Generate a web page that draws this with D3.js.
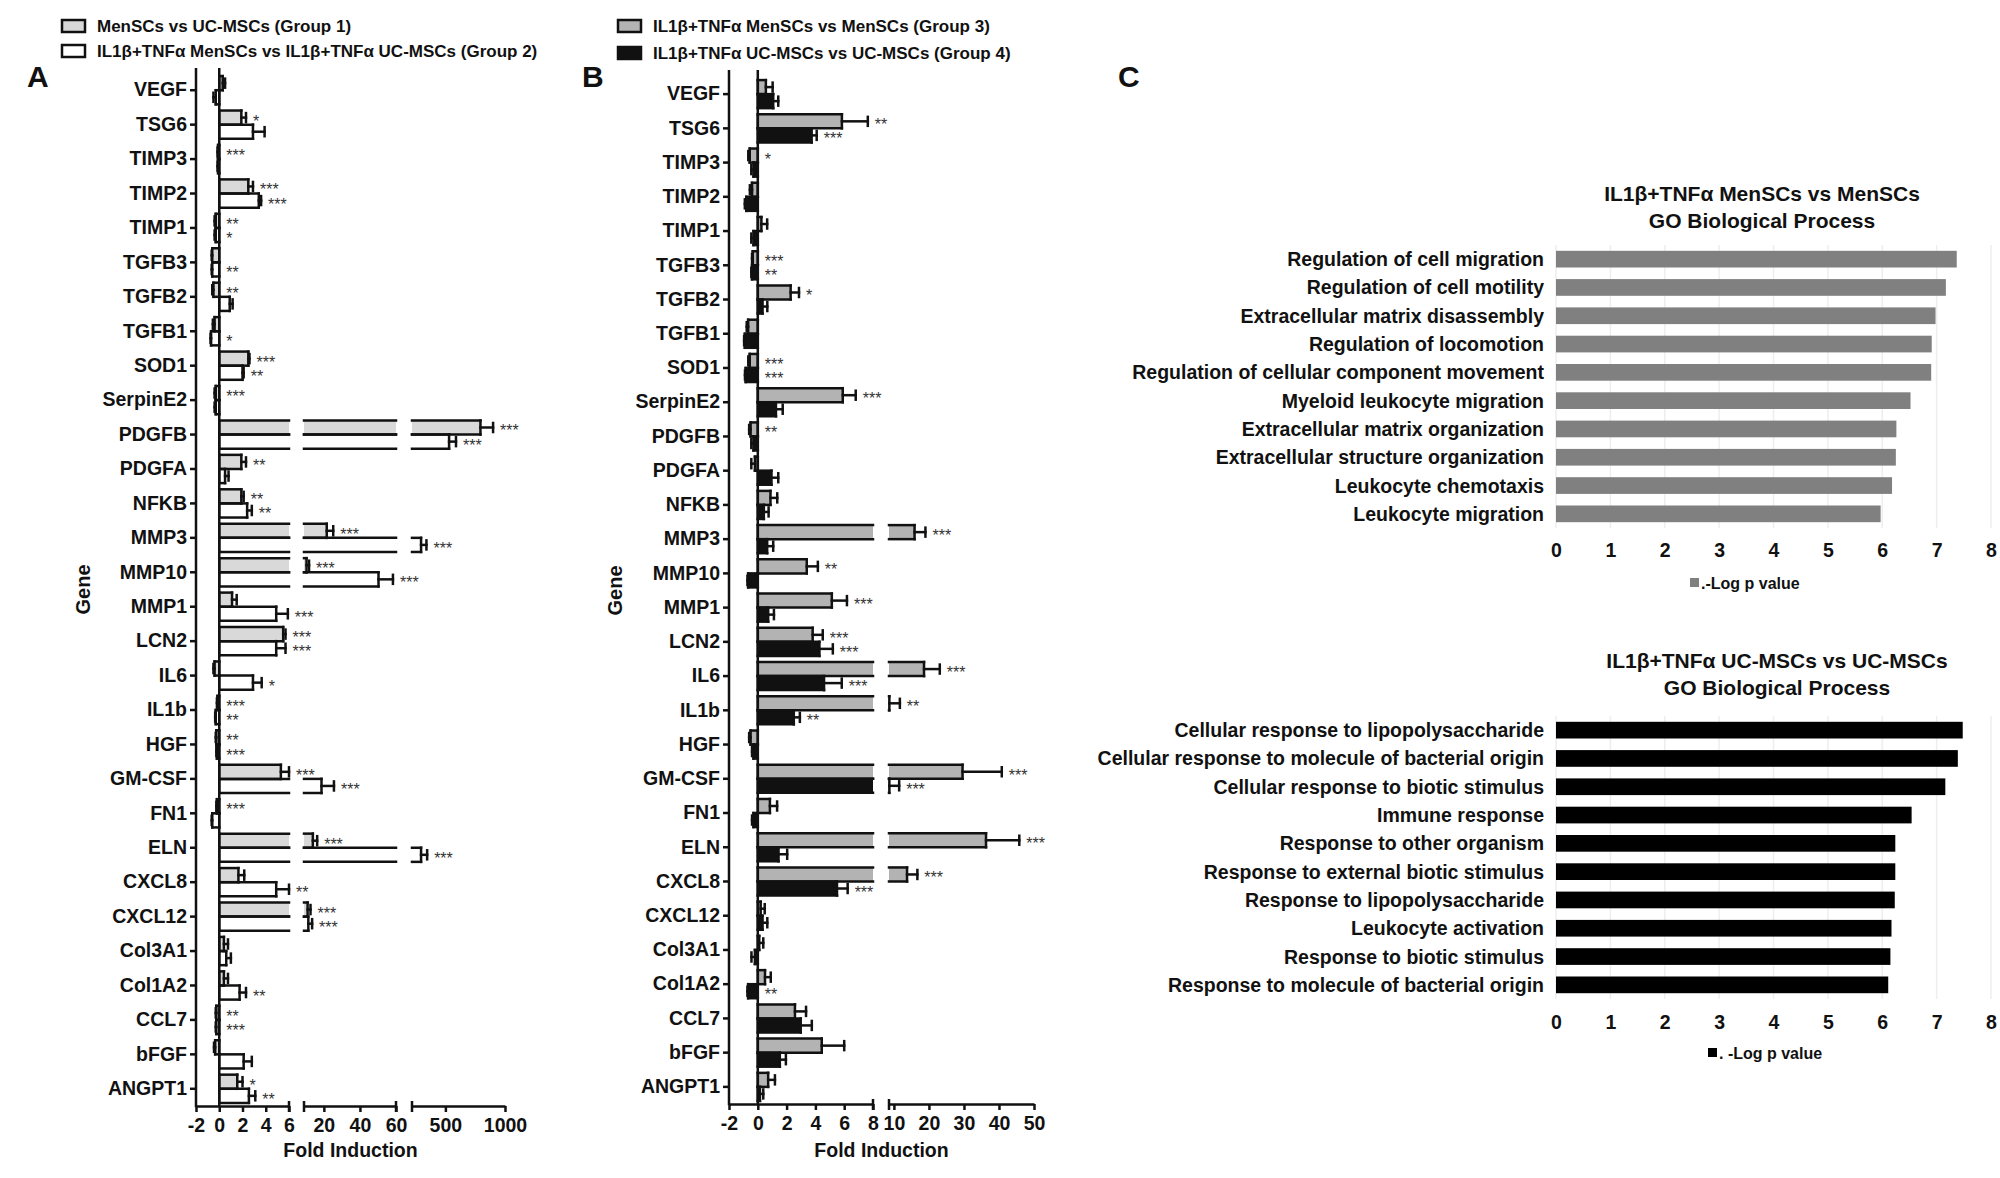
<!DOCTYPE html>
<html>
<head>
<meta charset="utf-8">
<script src="https://cdn.jsdelivr.net/npm/d3@7"></script>
<style>
  body { margin: 0; background: #fff; }
  svg { display: block; }
  text { font-family: "Liberation Sans", Arial, Helvetica, sans-serif; font-weight: bold; fill: #111; }
</style>
</head>
<body>
<div id="chart"></div>
<script>
// ---- data ----
const genes = ['VEGF', 'TSG6', 'TIMP3', 'TIMP2', 'TIMP1', 'TGFB3', 'TGFB2', 'TGFB1', 'SOD1', 'SerpinE2',
  'PDGFB', 'PDGFA', 'NFKB', 'MMP3', 'MMP10', 'MMP1', 'LCN2', 'IL6', 'IL1b', 'HGF',
  'GM-CSF', 'FN1', 'ELN', 'CXCL8', 'CXCL12', 'Col3A1', 'Col1A2', 'CCL7', 'bFGF', 'ANGPT1'];

// panel A
const group1 = [0.3, 1.9, -0.1, 2.5, -0.3, -0.6, -0.5, -0.4, 2.5, -0.3,
  794, 1.9, 1.9, 21.6, 10.4, 1.1, 5.5, -0.4, -0.15, -0.25,
  5.3, -0.2, 13.9, 1.65, 11, 0.4, 0.4, -0.25, -0.35, 1.55];
const group1Err = [0.2, 0.4, 0.05, 0.4, 0.1, 0.05, 0.1, 0.15, 0.1, 0.1,
  106, 0.4, 0.2, 3.6, 1.4, 0.4, 0.2, 0.1, 0.05, 0.05,
  0.7, 0.05, 2.4, 0.5, 1.6, 0.35, 0.35, 0.05, 0.1, 0.45];
const group1Sig = ['', '*', '***', '***', '**', '', '**', '', '***', '***',
  '***', '**', '**', '***', '***', '', '***', '', '***', '**',
  '***', '***', '***', '', '***', '', '', '**', '', '*'];

const group2 = [-0.3, 2.9, -0.1, 3.4, -0.3, -0.6, 0.9, -0.7, 2.0, -0.3,
  531, 0.5, 2.4, 296, 50.3, 4.9, 4.9, 2.9, -0.3, -0.2,
  18.7, -0.6, 296, 4.9, 11.4, 0.6, 1.75, -0.25, 2.1, 2.55];
const group2Err = [0.2, 1.0, 0.05, 0.2, 0.1, 0.05, 0.25, 0.05, 0.1, 0.1,
  58, 0.3, 0.4, 45, 8, 1.0, 0.8, 0.75, 0.05, 0.05,
  6.9, 0.05, 51, 1.1, 2.1, 0.4, 0.55, 0.05, 0.7, 0.55];
const group2Sig = ['', '', '', '***', '*', '**', '', '*', '**', '',
  '***', '', '**', '***', '***', '***', '***', '*', '**', '***',
  '***', '', '***', '**', '***', '', '**', '***', '', '**'];

// panel B
const group3 = [0.56, 5.84, -0.56, -0.4, 0.25, -0.35, 2.28, -0.67, -0.56, 5.9,
  -0.5, -0.2, 0.88, 15.9, 3.4, 5.14, 3.81, 18.6, 8.7, -0.5,
  29.6, 0.84, 36.3, 13.75, 0.2, 0.1, 0.5, 2.58, 4.44, 0.72];
const group3Err = [0.47, 1.8, 0.1, 0.15, 0.4, 0.05, 0.58, 0.1, 0.1, 0.9,
  0.1, 0.25, 0.47, 3.1, 0.77, 1.05, 0.7, 4.5, 3.0, 0.1,
  11.2, 0.5, 9.5, 2.95, 0.28, 0.28, 0.4, 0.77, 1.56, 0.47];
const group3Sig = ['', '**', '*', '', '', '***', '*', '', '***', '***',
  '**', '', '', '***', '**', '***', '***', '***', '**', '',
  '***', '', '***', '***', '', '', '', '', '', ''];

const group4 = [1.07, 3.74, -0.3, -0.8, -0.3, -0.4, 0.33, -0.9, -0.84, 1.26,
  -0.3, 0.95, 0.42, 0.65, -0.67, 0.72, 4.28, 4.6, 2.5, -0.3,
  8.7, -0.3, 1.44, 5.5, 0.33, -0.2, -0.67, 2.98, 1.53, 0.15];
const group4Err = [0.35, 0.35, 0.15, 0.1, 0.15, 0.05, 0.33, 0.05, 0.05, 0.47,
  0.15, 0.47, 0.33, 0.42, 0.05, 0.4, 0.93, 1.23, 0.42, 0.1,
  2.8, 0.1, 0.6, 0.74, 0.33, 0.24, 0.05, 0.77, 0.42, 0.23];
const group4Sig = ['', '***', '', '', '', '**', '', '', '***', '',
  '', '', '', '', '', '', '***', '***', '**', '',
  '***', '', '', '***', '', '', '**', '', '', ''];

const ticksA = [[-2, 0, 2, 4, 6], [20, 40, 60], [500, 1000]];
const ticksB = [[-2, 0, 2, 4, 6, 8], [10, 20, 30, 40, 50]];

// panel C
const goTermsMen = ['Regulation of cell migration', 'Regulation of cell motility', 'Extracellular matrix disassembly',
  'Regulation of locomotion', 'Regulation of cellular component movement', 'Myeloid leukocyte migration',
  'Extracellular matrix organization', 'Extracellular structure organization', 'Leukocyte chemotaxis', 'Leukocyte migration'];
const goValuesMen = [7.37, 7.17, 6.98, 6.91, 6.9, 6.52, 6.26, 6.25, 6.18, 5.97];
const goTermsUC = ['Cellular response to lipopolysaccharide', 'Cellular response to molecule of bacterial origin',
  'Cellular response to biotic stimulus', 'Immune response', 'Response to other organism',
  'Response to external biotic stimulus', 'Response to lipopolysaccharide', 'Leukocyte activation',
  'Response to biotic stimulus', 'Response to molecule of bacterial origin'];
const goValuesUC = [7.48, 7.39, 7.16, 6.54, 6.24, 6.24, 6.23, 6.17, 6.15, 6.11];
const goTicks = [0, 1, 2, 3, 4, 5, 6, 7, 8];

// ---- drawing ----
const svg = d3.select('#chart').append('svg').attr('width', 2000).attr('height', 1178);
svg.append('rect').attr('width', 2000).attr('height', 1178).attr('fill', '#fff');

const SW = 2.5;
const plain = (d) => String(d).replace('\u2212', '-');

function brokenScale(segs) {
  const scales = segs.map((s) => d3.scaleLinear().domain(s.d).range(s.r));
  const pos = (v) => {
    for (let i = 0; i < segs.length; i++) {
      if (v <= segs[i].d[1] || i === segs.length - 1) {
        return scales[i](Math.max(v, segs[i].d[0]));
      }
    }
  };
  return { scales, pos };
}

function drawPanel(o) {
  const g = svg.append('g');
  const { scales, pos } = brokenScale(o.segs);
  const y = d3.scaleBand().domain(genes).range(o.yRange).paddingInner(0.18).paddingOuter(0.09);
  const sub = d3.scaleBand().domain([0, 1]).range([0, y.bandwidth()]);
  const h = sub.bandwidth();
  const xAxisY = o.yRange[1];
  const axisX = o.segs[0].r[0];

  const fills = g.append('g');
  const lines = g.append('g').attr('stroke', '#111').attr('stroke-width', SW).attr('stroke-linecap', 'square');
  const stars = g.append('g');

  o.series.forEach((s, si) => {
    genes.forEach((gene, j) => {
      const v = s.vals[j];
      const e = s.errs[j];
      const y0 = y(gene) + sub(si);
      const a = Math.min(0, v);
      const b = Math.max(0, v);
      o.segs.forEach((seg, k) => {
        const lo = Math.max(a, seg.d[0]);
        const hi = Math.min(b, seg.d[1]);
        if (hi <= lo) return;
        const x0 = scales[k](lo);
        const x1 = scales[k](hi);
        fills.append('rect').attr('x', x0).attr('y', y0).attr('width', x1 - x0).attr('height', h).attr('fill', s.fill);
        lines.append('line').attr('x1', x0).attr('x2', x1).attr('y1', y0).attr('y2', y0);
        lines.append('line').attr('x1', x0).attr('x2', x1).attr('y1', y0 + h).attr('y2', y0 + h);
        if (lo === a) lines.append('line').attr('x1', x0).attr('x2', x0).attr('y1', y0).attr('y2', y0 + h);
        if (hi === b) lines.append('line').attr('x1', x1).attr('x2', x1).attr('y1', y0).attr('y2', y0 + h);
      });
      // error bar
      const ev = v >= 0 ? v + e : v - e;
      const xv = pos(v);
      const xe = pos(ev);
      const yc = y0 + h / 2;
      lines.append('line').attr('x1', xv).attr('x2', xe).attr('y1', yc).attr('y2', yc);
      lines.append('line').attr('x1', xe).attr('x2', xe).attr('y1', yc - h * 0.32).attr('y2', yc + h * 0.32);
      if (s.sig[j]) {
        stars.append('text')
          .attr('x', pos(Math.max(0, v >= 0 ? v + e : 0)) + 7)
          .attr('y', yc + 9)
          .style('font-size', '16px')
          .style('font-weight', 'normal')
          .style('fill', '#333')
          .text(s.sig[j]);
      }
    });
  });

  // zero line
  g.append('line').attr('x1', pos(0)).attr('x2', pos(0)).attr('y1', o.yTop).attr('y2', xAxisY)
    .attr('stroke', '#111').attr('stroke-width', SW);

  // y axis
  const yAxis = g.append('g').attr('transform', `translate(${axisX},0)`)
    .call(d3.axisLeft(y).tickSize(6).tickSizeOuter(0).tickPadding(3));
  yAxis.select('.domain').remove();
  yAxis.selectAll('.tick line').attr('stroke', '#111').attr('stroke-width', SW);
  yAxis.selectAll('.tick text').style('font-size', '19.5px').style('fill', '#111');
  g.append('line').attr('x1', axisX).attr('x2', axisX).attr('y1', o.yTop).attr('y2', xAxisY + SW / 2)
    .attr('stroke', '#111').attr('stroke-width', SW);

  // x axis, broken into segments
  scales.forEach((sc, k) => {
    const ax = g.append('g').attr('transform', `translate(0,${xAxisY})`)
      .call(d3.axisBottom(sc).tickValues(o.ticks[k]).tickSize(6).tickSizeOuter(0).tickFormat(plain));
    ax.select('.domain').attr('stroke', '#111').attr('stroke-width', SW);
    ax.selectAll('.tick line').attr('stroke', '#111').attr('stroke-width', SW);
    ax.selectAll('.tick text').attr('y', 12).style('font-size', '19.5px').style('fill', '#111');
    const r = o.segs[k].r;
    if (k > 0) g.append('line').attr('x1', r[0]).attr('x2', r[0]).attr('y1', xAxisY - 5).attr('y2', xAxisY + 6)
      .attr('stroke', '#111').attr('stroke-width', SW);
    if (k < scales.length - 1) g.append('line').attr('x1', r[1]).attr('x2', r[1]).attr('y1', xAxisY - 5).attr('y2', xAxisY + 6)
      .attr('stroke', '#111').attr('stroke-width', SW);
  });

  const xMid = (o.segs[0].r[0] + o.segs[o.segs.length - 1].r[1]) / 2;
  g.append('text').attr('x', xMid).attr('y', 1157).attr('text-anchor', 'middle')
    .style('font-size', '19.5px').text('Fold Induction');
  g.append('text').attr('transform', `translate(${o.geneX},${(o.yRange[0] + o.yRange[1]) / 2}) rotate(-90)`)
    .attr('text-anchor', 'middle').attr('dy', '0.35em').style('font-size', '20px').text('Gene');

  // legend
  o.legend.forEach((l, i) => {
    const cy = o.legendY[i];
    g.append('rect').attr('x', o.legendX).attr('y', cy - 6).attr('width', 23).attr('height', 12)
      .attr('fill', l.fill).attr('stroke', '#111').attr('stroke-width', SW);
    g.append('text').attr('x', o.legendX + 35).attr('y', cy + 6).style('font-size', '17px').text(l.label);
  });

  g.append('text').attr('x', o.letter[0]).attr('y', o.letter[1]).style('font-size', '30px').text(o.letterText);
}

drawPanel({
  segs: [{ d: [-2, 6], r: [196, 289] }, { d: [9, 60], r: [304, 396] }, { d: [220, 1000], r: [412, 505] }],
  ticks: ticksA,
  yRange: [73, 1106],
  yTop: 68,
  geneX: 83,
  series: [
    { vals: group1, errs: group1Err, sig: group1Sig, fill: '#d9d9d9' },
    { vals: group2, errs: group2Err, sig: group2Sig, fill: '#ffffff' },
  ],
  legend: [
    { fill: '#d9d9d9', label: 'MenSCs vs UC-MSCs (Group 1)' },
    { fill: '#ffffff', label: 'IL1β+TNFα MenSCs vs IL1β+TNFα UC-MSCs (Group 2)' },
  ],
  legendX: 62,
  legendY: [26, 51],
  letter: [27, 87],
  letterText: 'A',
});

drawPanel({
  segs: [{ d: [-2, 8], r: [729, 873] }, { d: [8.6, 50], r: [889, 1034] }],
  ticks: ticksB,
  yRange: [77, 1104],
  yTop: 70,
  geneX: 615,
  series: [
    { vals: group3, errs: group3Err, sig: group3Sig, fill: '#b3b3b3' },
    { vals: group4, errs: group4Err, sig: group4Sig, fill: '#111111' },
  ],
  legend: [
    { fill: '#b3b3b3', label: 'IL1β+TNFα MenSCs vs MenSCs (Group 3)' },
    { fill: '#111111', label: 'IL1β+TNFα UC-MSCs vs UC-MSCs (Group 4)' },
  ],
  legendX: 618,
  legendY: [26, 53],
  letter: [582, 87],
  letterText: 'B',
});

function drawGO(o) {
  const g = svg.append('g');
  const x = d3.scaleLinear().domain([0, 8]).range([1556, 1991]);
  const y = d3.scaleBand().domain(o.terms).range(o.yRange).paddingInner(0.41).paddingOuter(0.205);

  g.selectAll('.grid').data(goTicks).join('line')
    .attr('x1', (d) => x(d)).attr('x2', (d) => x(d))
    .attr('y1', o.yRange[0]).attr('y2', o.yRange[1])
    .attr('stroke', '#eeeeee').attr('stroke-width', 1.5);

  g.selectAll('.bar').data(o.terms).join('rect')
    .attr('x', x(0)).attr('y', (d) => y(d))
    .attr('width', (d, i) => x(o.vals[i]) - x(0)).attr('height', y.bandwidth())
    .attr('fill', o.color);

  g.selectAll('.lab').data(o.terms).join('text')
    .attr('x', x(0) - 12).attr('y', (d) => y(d) + y.bandwidth() / 2).attr('dy', '0.36em')
    .attr('text-anchor', 'end').style('font-size', '19.5px').text((d) => d);

  const ax = g.append('g').attr('transform', `translate(0,${o.tickY})`)
    .call(d3.axisBottom(x).tickValues(goTicks).tickSize(0).tickPadding(0).tickFormat(plain));
  ax.select('.domain').remove();
  ax.selectAll('.tick text').attr('y', 0).attr('dy', '0.36em').style('font-size', '19.5px').style('fill', '#111');

  o.title.forEach((t, i) => {
    g.append('text').attr('x', o.titleX).attr('y', o.titleY + i * 27).attr('text-anchor', 'middle')
      .style('font-size', '21px').text(t);
  });

  g.append('rect').attr('x', o.legendX).attr('y', o.legendY - 5).attr('width', 9).attr('height', 9).attr('fill', o.color);
  g.append('text').attr('x', o.legendX + 11).attr('y', o.legendY).attr('dy', '0.36em')
    .style('font-size', '16px').text(o.legendText);
}

drawGO({
  terms: goTermsMen,
  vals: goValuesMen,
  color: '#808080',
  yRange: [245, 528],
  tickY: 550,
  title: ['IL1β+TNFα MenSCs vs MenSCs', 'GO Biological Process'],
  titleX: 1762,
  titleY: 201,
  legendX: 1690,
  legendY: 583,
  legendText: '.-Log p value',
});

drawGO({
  terms: goTermsUC,
  vals: goValuesUC,
  color: '#000000',
  yRange: [716, 999],
  tickY: 1022,
  title: ['IL1β+TNFα UC-MSCs vs UC-MSCs', 'GO Biological Process'],
  titleX: 1777,
  titleY: 668,
  legendX: 1708,
  legendY: 1053,
  legendText: '. -Log p value',
});

svg.append('text').attr('x', 1118).attr('y', 87).style('font-size', '30px').text('C');
</script>
</body>
</html>
